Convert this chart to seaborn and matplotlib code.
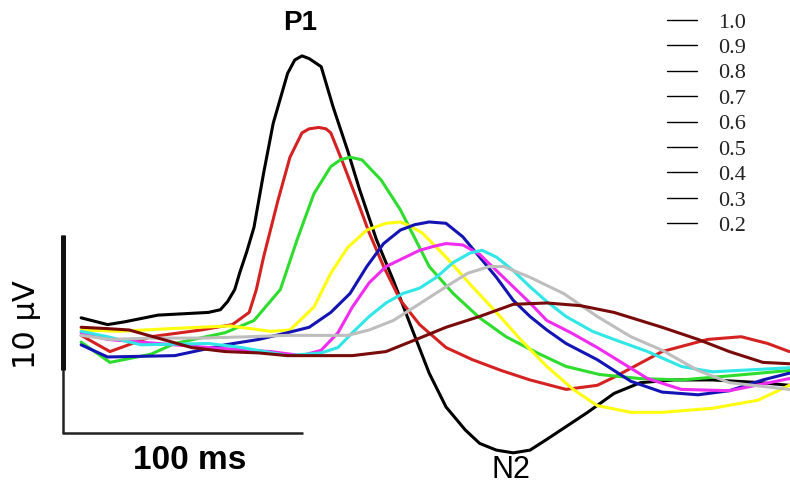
import numpy as np
import pandas as pd
import matplotlib
matplotlib.use("Agg")
import matplotlib.pyplot as plt
import seaborn as sns
from matplotlib.lines import Line2D

# ERP waveforms per stimulus level: time (ms) and amplitude (µV)
levels = ["1.0", "0.9", "0.8", "0.7", "0.6", "0.5", "0.4", "0.3", "0.2"]
colors = ["#000000", "#d42222", "#2edc2e", "#ffff10", "#1414b4",
          "#f02cf0", "#30e6e6", "#bebebe", "#780a0a"]

t_10 = [8, 19, 26, 40, 61, 66, 69, 72, 74, 77, 80, 84, 88, 94, 97, 100, 103, 108, 113, 119,
        124, 131, 138, 146, 153, 160, 168, 174, 181, 188, 195, 202, 219, 230, 241, 255, 271,
        291, 303]
v_10 = [0.9, 0.4, 0.6, 1.1, 1.3, 1.5, 2.1, 3.0, 4.2, 5.8, 7.6, 11.6, 15.3, 19.0, 20.0, 20.3,
        20.1, 19.5, 16.5, 13.3, 10.4, 6.7, 3.7, 0.0, -3.2, -5.7, -7.4, -8.4, -8.9, -9.1, -8.9,
        -8.1, -6.1, -4.7, -3.9, -3.7, -3.7, -3.9, -4.1]

t_09 = [8, 20, 37, 58, 71, 78, 81, 84, 90, 95, 100, 103, 107, 110, 112, 117, 123, 128, 134,
        141, 149, 160, 171, 183, 195, 210, 223, 230, 250, 269, 283, 294, 303]
v_09 = [-0.4, -1.6, -0.5, 0.0, 0.4, 1.3, 3.0, 5.4, 9.6, 12.8, 14.6, 14.9, 15.0, 14.9, 14.6,
        12.4, 9.6, 7.2, 4.7, 2.2, 0.4, -1.3, -2.2, -3.0, -3.7, -4.4, -4.1, -3.5, -1.6, -0.7,
        -0.5, -1.0, -1.6]

t_08 = [8, 20, 37, 47, 68, 80, 91, 98, 105, 112, 116, 120, 125, 133, 141, 153, 163, 174, 185,
        198, 210, 224, 241, 258, 278, 303]
v_08 = [-0.9, -2.4, -1.8, -1.0, -0.2, 0.7, 3.0, 6.7, 10.1, 12.1, 12.6, 12.8, 12.6, 11.1, 8.9,
        4.7, 2.7, 0.9, -0.5, -1.7, -2.7, -3.3, -3.6, -3.7, -3.4, -3.0]

t_07 = [8, 24, 45, 70, 87, 95, 105, 112, 119, 127, 135, 141, 145, 150, 160, 171, 181, 191,
        202, 213, 223, 237, 250, 271, 290, 303]
v_07 = [0.0, -0.1, 0.1, 0.3, -0.1, 0.0, 1.7, 4.2, 6.1, 7.4, 7.9, 8.0, 7.7, 7.2, 5.4, 3.2, 1.3,
        -0.7, -2.7, -4.4, -5.6, -6.1, -6.1, -5.8, -5.2, -4.1]

t_06 = [8, 19, 47, 68, 82, 94, 103, 112, 120, 127, 134, 141, 147, 153, 160, 167, 174, 181,
        188, 195, 202, 210, 223, 237, 250, 265, 278, 292, 303]
v_06 = [-1.1, -2.0, -1.9, -1.1, -0.7, -0.2, 0.2, 1.3, 2.7, 4.7, 6.4, 7.4, 7.8, 8.0, 7.9, 6.9,
        5.4, 3.9, 2.2, 1.0, 0.0, -1.0, -2.2, -3.8, -4.6, -4.8, -4.5, -3.7, -3.2]

t_05 = [8, 19, 33, 61, 87, 100, 108, 115, 121, 128, 135, 149, 155, 160, 167, 174, 181, 188,
        195, 202, 212, 223, 244, 258, 278, 292, 303]
v_05 = [-0.2, -0.7, -0.9, -1.3, -1.6, -1.9, -1.5, -0.2, 1.7, 3.5, 4.7, 5.9, 6.2, 6.4, 6.3, 5.6,
        4.4, 3.2, 2.0, 0.7, -0.2, -1.3, -3.6, -4.4, -4.5, -4.0, -3.6]

t_04 = [8, 19, 33, 61, 75, 94, 108, 115, 121, 128, 135, 142, 149, 156, 163, 170, 175, 181,
        188, 195, 202, 210, 221, 230, 244, 258, 271, 303]
v_04 = [-0.1, -0.5, -1.1, -1.0, -1.3, -1.9, -1.7, -1.3, -0.2, 1.0, 2.0, 2.7, 3.1, 3.9, 5.0,
        5.7, 5.9, 5.4, 4.4, 3.2, 2.1, 1.0, -0.1, -0.7, -1.6, -2.7, -3.1, -2.8]

t_03 = [8, 20, 37, 58, 78, 94, 119, 128, 138, 146, 160, 169, 178, 184, 195, 209, 223, 237,
        250, 265, 278, 303]
v_03 = [-0.4, -0.7, -0.6, -0.6, -0.5, -0.4, -0.4, 0.0, 0.7, 1.6, 3.2, 4.2, 4.7, 4.7, 3.9,
        2.7, 1.0, -0.5, -1.5, -3.0, -3.9, -4.4]

t_02 = [8, 19, 28, 40, 54, 68, 82, 94, 121, 135, 149, 160, 174, 188, 202, 216, 230, 250,
        265, 278, 292, 303]
v_02 = [0.2, 0.1, 0.0, -0.6, -1.3, -1.6, -1.7, -1.9, -1.9, -1.6, -0.6, 0.2, 1.0, 1.9, 2.0,
        1.8, 1.3, 0.2, -0.7, -1.6, -2.4, -2.5]

times = [t_10, t_09, t_08, t_07, t_06, t_05, t_04, t_03, t_02]
volts = [v_10, v_09, v_08, v_07, v_06, v_05, v_04, v_03, v_02]

rows = []
for lev, ts, vs in zip(levels, times, volts):
    for t, v in zip(ts, vs):
        rows.append({"level": lev, "time": t, "volt": v})
df = pd.DataFrame(rows)

sns.set_style("white")
fig = plt.figure(figsize=(7.9, 4.87), dpi=100)
ax = fig.add_axes([0, 0, 1, 1])

sns.lineplot(data=df, x="time", y="volt", hue="level", hue_order=levels,
             palette=dict(zip(levels, colors)), sort=False, estimator=None,
             units="level", linewidth=2.2, legend=False, ax=ax,
             solid_joinstyle="round", solid_capstyle="round")

ax.set_xlim(-25.8, 303.3)
ax.set_ylim(-11.63, 24.44)
ax.axis("off")

# scale bars: 10 µV and 100 ms
ax.plot([0.4, 0.4], [-7.6, 7.0], color="#222222", lw=1.8, solid_capstyle="butt")
ax.plot([0.4, 0.4], [-3.0, 7.0], color="#111111", lw=3.6, solid_capstyle="butt")
ax.plot([0, 100.4], [-7.6, -7.6], color="#222222", lw=1.8, solid_capstyle="butt")

ax.text(-14.8, 0.4, "10 µV", rotation=90, ha="center", va="center",
        fontsize=22, family="DejaVu Sans", color="black")
ax.text(53.3, -9.7, "100 ms", ha="center", va="center", fontsize=24,
        fontweight="bold", family="Liberation Sans", color="black")
ax.text(99.2, 22.7, "P1", ha="center", va="center", fontsize=20,
        fontweight="bold", family="Liberation Sans", color="black")
ax.text(187.1, -10.4, "N2", ha="center", va="center", fontsize=22,
        family="Liberation Sans", color="black")

handles = [Line2D([], [], color="black", lw=1) for _ in levels]
leg = fig.legend(handles, levels, loc="upper left", bbox_to_anchor=(667 / 790, 1 - 12 / 487),
                 frameon=False, borderpad=0, borderaxespad=0, handlelength=1.35,
                 handletextpad=0.95, labelspacing=0.22,
                 prop={"family": "Liberation Serif", "size": 16})
for txt in leg.get_texts():
    txt.set_color("#222222")

fig.savefig("out.png", dpi=100)
